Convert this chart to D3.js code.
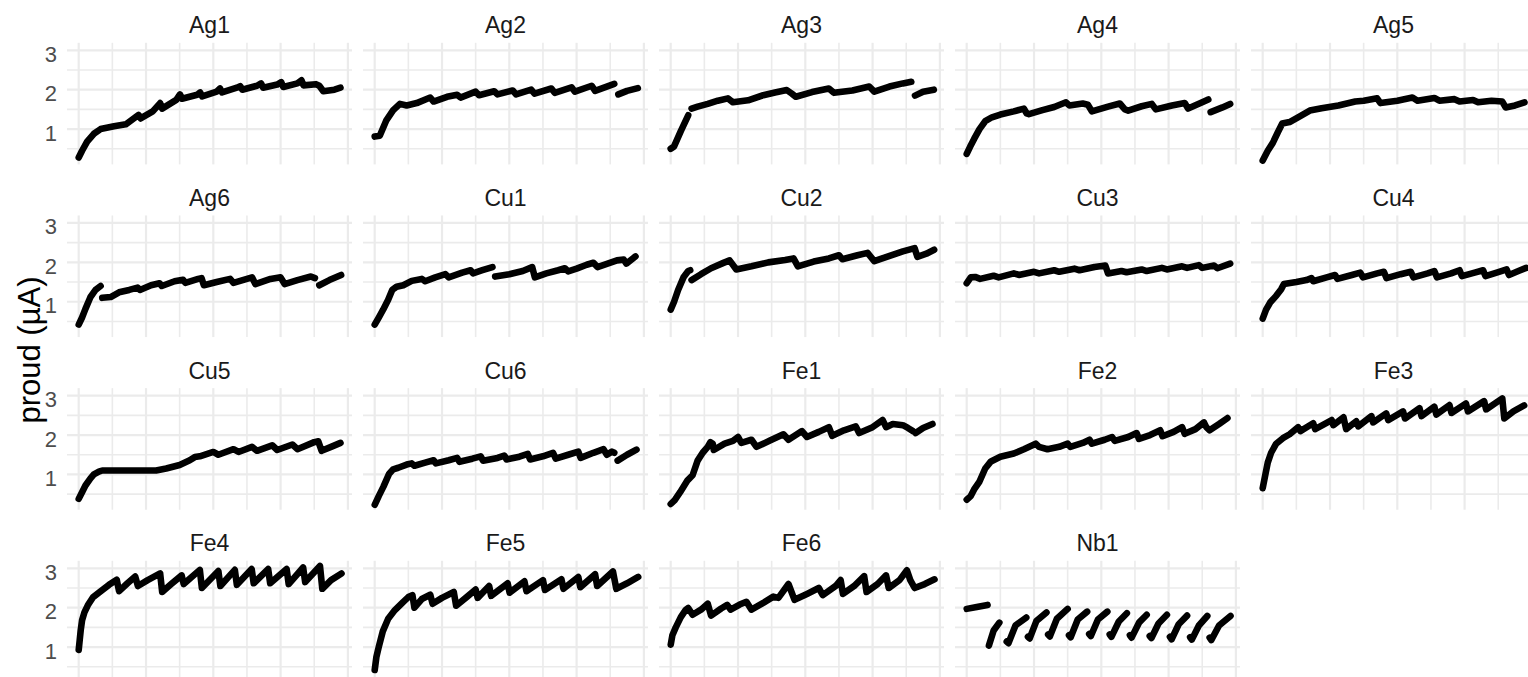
<!DOCTYPE html>
<html>
<head>
<meta charset="utf-8">
<script src="https://cdn.jsdelivr.net/npm/d3@7"></script>
<style>
  html, body { margin: 0; padding: 0; background: #fff; overflow: hidden; }
  svg { display: block; font-family: "Liberation Sans", Arial, sans-serif; }
</style>
</head>
<body>
<div id="chart"></div>
<script>
// facet order, left to right, top to bottom
const panelNames = ["Ag1", "Ag2", "Ag3", "Ag4", "Ag5",
                    "Ag6", "Cu1", "Cu2", "Cu3", "Cu4",
                    "Cu5", "Cu6", "Fe1", "Fe2", "Fe3",
                    "Fe4", "Fe5", "Fe6", "Nb1"];

const yTicks = [1, 2, 3];
const yMinor = [0.5, 1.5, 2.5];
const xMajor = [0, 200, 400, 600, 800];
const xMinor = [100, 300, 500, 700];

// each series: list of runs, each run a list of [t, current]
const ag1 = [[
  [0,0.28],[10,0.45],[25,0.68],[45,0.88],[65,1.0],[105,1.07],[140,1.12],[178,1.36],[184,1.27],[220,1.45],[242,1.66],[248,1.52],
  [290,1.74],[301,1.88],[307,1.77],[352,1.87],[361,1.93],[367,1.83],[410,1.95],[420,2.03],[426,1.93],[470,2.05],[480,2.09],
  [486,2.0],[530,2.1],[542,2.16],[548,2.05],[590,2.13],[602,2.19],[608,2.07],[650,2.16],[662,2.24],[668,2.11],[705,2.14],
  [715,2.1],[727,1.96],[760,2.0],[778,2.05]
]];
const ag2 = [[
  [0,0.81],[15,0.83],[35,1.23],[55,1.48],[75,1.64],[95,1.6],[125,1.66],[165,1.8],[175,1.7],[215,1.82],[245,1.87],[255,1.8],
  [300,1.95],[310,1.86],[355,1.96],[365,1.88],[410,1.98],[420,1.88],[465,2.0],[475,1.9],[525,2.03],[535,1.92],[585,2.06],
  [595,1.95],[645,2.1],[655,1.97],[712,2.15]
], [
  [724,1.88],[750,1.97],[782,2.04]
]];
const ag3 = [[
  [0,0.5],[10,0.56],[30,0.95],[52,1.35]
], [
  [62,1.52],[80,1.57],[110,1.64],[140,1.72],[170,1.78],[185,1.68],[230,1.73],[275,1.86],[310,1.93],[345,1.99],[360,1.9],
  [372,1.82],[420,1.94],[470,2.03],[485,1.92],[540,1.98],[590,2.08],[605,1.95],[650,2.08],[690,2.16],[715,2.2]
], [
  [726,1.85],[750,1.95],[782,2.0]
]];
const ag4 = [[
  [0,0.37],[10,0.55],[22,0.75],[38,1.0],[55,1.2],[75,1.3],[100,1.37],[140,1.45],[170,1.52],[178,1.4],[185,1.38],[225,1.48],
  [260,1.56],[295,1.68],[305,1.6],[345,1.65],[360,1.62],[372,1.45],[420,1.57],[455,1.65],[470,1.5],[480,1.47],[520,1.58],
  [550,1.64],[562,1.5],[610,1.6],[648,1.66],[658,1.52],[700,1.68],[718,1.75]
], [
  [725,1.43],[760,1.55],[783,1.64]
]];
const ag5 = [[
  [0,0.2],[15,0.45],[30,0.65],[45,0.92],[58,1.14],[80,1.18],[105,1.3],[140,1.47],[175,1.53],[225,1.6],[275,1.7],[300,1.72],
  [340,1.78],[350,1.66],[400,1.72],[445,1.8],[460,1.72],[510,1.79],[525,1.72],[570,1.76],[585,1.7],[625,1.74],[640,1.68],
  [680,1.72],[712,1.7],[722,1.55],[750,1.6],[778,1.68]
]];
const ag6 = [[
  [0,0.42],[10,0.6],[20,0.82],[35,1.12],[50,1.3],[65,1.4]
], [
  [70,1.1],[95,1.12],[120,1.24],[150,1.3],[175,1.36],[182,1.3],[215,1.42],[240,1.47],[247,1.4],[285,1.52],[310,1.56],
  [317,1.48],[355,1.58],[365,1.6],[372,1.42],[410,1.5],[450,1.58],[460,1.48],[500,1.58],[515,1.62],[525,1.45],[570,1.58],
  [600,1.62],[612,1.45],[650,1.55],[690,1.64],[702,1.6]
], [
  [715,1.42],[745,1.55],[780,1.68]
]];
const cu1 = [[
  [0,0.42],[12,0.6],[25,0.8],[40,1.05],[52,1.3],[65,1.38],[85,1.42],[110,1.53],[140,1.58],[150,1.52],[180,1.62],[210,1.7],
  [220,1.62],[260,1.74],[285,1.8],[292,1.72],[320,1.8],[350,1.88]
], [
  [358,1.64],[400,1.7],[440,1.78],[468,1.88],[476,1.62],[510,1.72],[545,1.8],[565,1.85],[575,1.77],[600,1.84],[630,1.94],
  [650,1.99],[662,1.88],[690,1.96],[720,2.05],[740,2.07],[748,1.97],[775,2.15]
]];
const cu2 = [[
  [0,0.8],[10,1.0],[22,1.3],[38,1.62],[52,1.78],[58,1.8]
], [
  [62,1.55],[90,1.7],[120,1.85],[155,1.98],[175,2.05],[195,1.82],[240,1.9],[290,2.0],[340,2.06],[365,2.1],[378,1.9],
  [425,2.02],[470,2.1],[500,2.18],[510,2.08],[555,2.18],[585,2.24],[605,2.03],[655,2.18],[690,2.28],[725,2.36],[733,2.14],
  [760,2.22],[783,2.32]
]];
const cu3 = [[
  [0,1.47],[12,1.62],[25,1.63],[40,1.58],[80,1.66],[95,1.62],[140,1.72],[155,1.68],[200,1.76],[215,1.72],[260,1.8],
  [275,1.76],[320,1.84],[335,1.8],[380,1.88],[412,1.92],[420,1.72],[460,1.78],[475,1.75],[520,1.82],[535,1.78],[580,1.86],
  [595,1.82],[640,1.9],[655,1.86],[690,1.93],[700,1.86],[735,1.92],[745,1.85],[783,1.97]
]];
const cu4 = [[
  [0,0.57],[10,0.8],[22,0.98],[40,1.15],[55,1.32],[63,1.45],[100,1.5],[130,1.55],[145,1.6],[150,1.52],[190,1.62],[215,1.68],
  [222,1.58],[265,1.68],[290,1.74],[298,1.62],[340,1.72],[360,1.76],[368,1.6],[410,1.7],[440,1.76],[448,1.62],[490,1.72],
  [510,1.78],[518,1.62],[560,1.72],[585,1.8],[592,1.65],[630,1.74],[655,1.8],[662,1.65],[700,1.75],[725,1.82],[732,1.68],
  [760,1.78],[783,1.86]
]];
const cu5 = [[
  [0,0.38],[10,0.55],[20,0.72],[35,0.9],[45,1.0],[60,1.07],[70,1.1],[230,1.1],[260,1.15],[300,1.24],[330,1.36],[345,1.44],
  [360,1.46],[400,1.57],[415,1.5],[460,1.64],[475,1.57],[515,1.7],[530,1.6],[575,1.74],[590,1.62],[635,1.76],[650,1.64],
  [700,1.82],[712,1.84],[722,1.6],[750,1.7],[778,1.8]
]];
const cu6 = [[
  [0,0.23],[12,0.45],[26,0.69],[43,1.02],[55,1.13],[70,1.17],[95,1.25],[110,1.28],[118,1.22],[150,1.3],[175,1.36],
  [182,1.28],[220,1.36],[245,1.42],[252,1.32],[290,1.4],[315,1.46],[322,1.35],[365,1.42],[385,1.48],[392,1.38],[430,1.45],
  [455,1.52],[462,1.38],[500,1.46],[530,1.55],[538,1.4],[575,1.5],[605,1.58],[612,1.42],[650,1.55],[680,1.64],[690,1.5],
  [705,1.58],[712,1.55]
], [
  [722,1.35],[750,1.5],[778,1.63]
]];
const fe1 = [[
  [0,0.25],[12,0.35],[28,0.55],[50,0.85],[65,0.98],[80,1.35],[95,1.55],[110,1.7],[118,1.82],[125,1.78],[128,1.62],
  [160,1.78],[185,1.85],[200,1.95],[210,1.8],[240,1.88],[255,1.7],[295,1.86],[335,2.02],[350,1.88],[390,2.1],[405,1.95],
  [440,2.08],[470,2.2],[480,1.98],[515,2.12],[550,2.22],[560,2.05],[600,2.2],[630,2.38],[640,2.2],[660,2.28],[690,2.25],
  [705,2.18],[720,2.1]
], [
  [728,2.05],[750,2.18],[778,2.28]
]];
const fe2 = [[
  [0,0.36],[12,0.45],[22,0.62],[38,0.82],[55,1.15],[72,1.33],[100,1.45],[140,1.53],[170,1.64],[205,1.78],[215,1.7],
  [240,1.64],[275,1.7],[300,1.78],[308,1.7],[345,1.8],[365,1.88],[372,1.78],[410,1.88],[432,1.95],[440,1.85],[480,1.95],
  [505,2.05],[512,1.9],[545,2.0],[575,2.12],[582,1.97],[615,2.08],[640,2.2],[648,2.03],[680,2.15],[705,2.32],[712,2.2],
  [722,2.12],[750,2.28],[775,2.43]
]];
const fe3 = [[
  [0,0.65],[8,1.0],[15,1.3],[25,1.55],[40,1.78],[60,1.92],[80,2.02],[105,2.2],[112,2.1],[150,2.3],[156,2.15],[205,2.38],
  [210,2.25],[240,2.45],[248,2.15],[278,2.35],[284,2.22],[323,2.48],[328,2.32],[367,2.55],[373,2.38],[417,2.6],[423,2.42],
  [466,2.68],[472,2.48],[510,2.72],[516,2.52],[555,2.76],[561,2.56],[604,2.8],[610,2.6],[658,2.86],[664,2.65],[712,2.93],
  [718,2.42],[745,2.6],[777,2.75]
]];
const fe4 = [[
  [0,0.93],[3,1.18],[6,1.43],[10,1.68],[17,1.88],[27,2.06],[42,2.26],[63,2.4],[90,2.58],[113,2.71],[120,2.42],[145,2.62],
  [168,2.79],[176,2.55],[205,2.7],[242,2.87],[248,2.4],[275,2.6],[306,2.82],[312,2.6],[360,2.96],[366,2.5],[415,2.93],
  [421,2.55],[464,2.96],[470,2.58],[514,2.98],[520,2.62],[563,2.98],[569,2.62],[618,2.98],[624,2.6],[667,3.02],[673,2.65],
  [717,3.06],[724,2.48],[750,2.7],[781,2.87]
]];
const fe5 = [[
  [0,0.42],[5,0.75],[12,1.0],[24,1.4],[40,1.72],[60,1.94],[85,2.15],[100,2.27],[112,2.32],[118,2.0],[140,2.22],[165,2.33],
  [172,2.1],[200,2.25],[235,2.4],[242,2.05],[275,2.28],[300,2.46],[306,2.25],[340,2.55],[346,2.3],[395,2.62],[401,2.38],
  [445,2.67],[451,2.42],[500,2.7],[506,2.45],[555,2.72],[561,2.48],[605,2.78],[611,2.52],[655,2.85],[661,2.55],[708,2.92],
  [718,2.48],[750,2.62],[783,2.78]
]];
const fe6 = [[
  [0,1.06],[5,1.3],[15,1.5],[30,1.76],[45,1.95],[52,1.99],[65,1.82],[90,1.95],[110,2.1],[120,1.8],[150,1.98],[168,2.07],
  [178,1.95],[205,2.08],[225,2.15],[240,1.95],[275,2.12],[305,2.28],[320,2.25],[350,2.6],[368,2.2],[405,2.35],[440,2.5],
  [452,2.32],[490,2.55],[505,2.7],[512,2.35],[545,2.55],[575,2.8],[582,2.4],[615,2.6],[640,2.82],[648,2.5],[680,2.7],
  [702,2.95],[712,2.7],[725,2.5],[755,2.6],[784,2.72]
]];
const nb1 = [
  [[0,1.97],[30,2.02],[62,2.07]],
  [[66,1.04],[80,1.42],[97,1.62]],
  [[119,1.14],[124,1.1],[145,1.55],[177,1.75]],
  [[182,1.26],[187,1.22],[207,1.66],[237,1.88]],
  [[242,1.32],[247,1.27],[268,1.72],[300,1.97]],
  [[304,1.3],[309,1.25],[330,1.7],[358,1.9]],
  [[364,1.33],[369,1.28],[390,1.7],[418,1.9]],
  [[425,1.32],[430,1.26],[452,1.65],[476,1.86]],
  [[485,1.3],[490,1.24],[512,1.62],[535,1.82]],
  [[544,1.28],[549,1.23],[570,1.6],[595,1.82]],
  [[604,1.26],[609,1.2],[630,1.58],[655,1.8]],
  [[664,1.25],[669,1.19],[690,1.55],[715,1.79]],
  [[722,1.24],[727,1.18],[750,1.55],[784,1.79]]
];

const series = {
  Ag1: ag1, Ag2: ag2, Ag3: ag3, Ag4: ag4, Ag5: ag5, Ag6: ag6,
  Cu1: cu1, Cu2: cu2, Cu3: cu3, Cu4: cu4, Cu5: cu5, Cu6: cu6,
  Fe1: fe1, Fe2: fe2, Fe3: fe3, Fe4: fe4, Fe5: fe5, Fe6: fe6,
  Nb1: nb1
};

const W = 1528, H = 677;
const ncol = 5;
const panelW = 285, panelH = 121.6;
const colStep = 296, rowStep = 172.67;
const left0 = 67, top0 = 42.8;

const x = d3.scaleLinear().domain([-34.8, 812.2]).range([0, panelW]);
const y = d3.scaleLinear().domain([0.104, 3.19]).range([panelH, 0]);

const line = d3.line()
  .x(d => x(d[0]))
  .y(d => y(d[1]));

const svg = d3.select("#chart")
  .append("svg")
  .attr("width", W)
  .attr("height", H);

panelNames.forEach((name, i) => {
  const col = i % ncol;
  const row = Math.floor(i / ncol);
  const g = svg.append("g")
    .attr("transform", `translate(${left0 + col * colStep},${top0 + row * rowStep})`);

  // minor grid
  g.selectAll("line.ymin").data(yMinor).join("line")
    .attr("x1", 0).attr("x2", panelW)
    .attr("y1", d => y(d)).attr("y2", d => y(d))
    .attr("stroke", "#EBEBEB").attr("stroke-width", 1.6);
  g.selectAll("line.xmin").data(xMinor).join("line")
    .attr("y1", 0).attr("y2", panelH)
    .attr("x1", d => x(d)).attr("x2", d => x(d))
    .attr("stroke", "#EBEBEB").attr("stroke-width", 1.6);

  // major grid
  g.selectAll("line.ymaj").data(yTicks).join("line")
    .attr("x1", 0).attr("x2", panelW)
    .attr("y1", d => y(d)).attr("y2", d => y(d))
    .attr("stroke", "#EBEBEB").attr("stroke-width", 2.2);
  g.selectAll("line.xmaj").data(xMajor).join("line")
    .attr("y1", 0).attr("y2", panelH)
    .attr("x1", d => x(d)).attr("x2", d => x(d))
    .attr("stroke", "#EBEBEB").attr("stroke-width", 2.2);

  // the measurements
  g.selectAll("path.run").data(series[name]).join("path")
    .attr("class", "run")
    .attr("d", line)
    .attr("fill", "none")
    .attr("stroke", "#000")
    .attr("stroke-width", 6.6)
    .attr("stroke-linecap", "round")
    .attr("stroke-linejoin", "round");

  // strip title
  g.append("text")
    .attr("x", panelW / 2)
    .attr("y", -9.5)
    .attr("text-anchor", "middle")
    .attr("font-size", 23)
    .attr("fill", "#1A1A1A")
    .text(name);

  if (col === 0) {
    g.selectAll("text.ytick").data(yTicks).join("text")
      .attr("x", -10)
      .attr("y", d => y(d) + 11.5)
      .attr("text-anchor", "end")
      .attr("font-size", 22)
      .attr("fill", "#4D4D4D")
      .text(d => d);
  }
});

svg.append("text")
  .attr("transform", "translate(40,350) rotate(-90)")
  .attr("text-anchor", "middle")
  .attr("font-size", 31)
  .attr("fill", "#000")
  .text("proud (µA)");
</script>
</body>
</html>
